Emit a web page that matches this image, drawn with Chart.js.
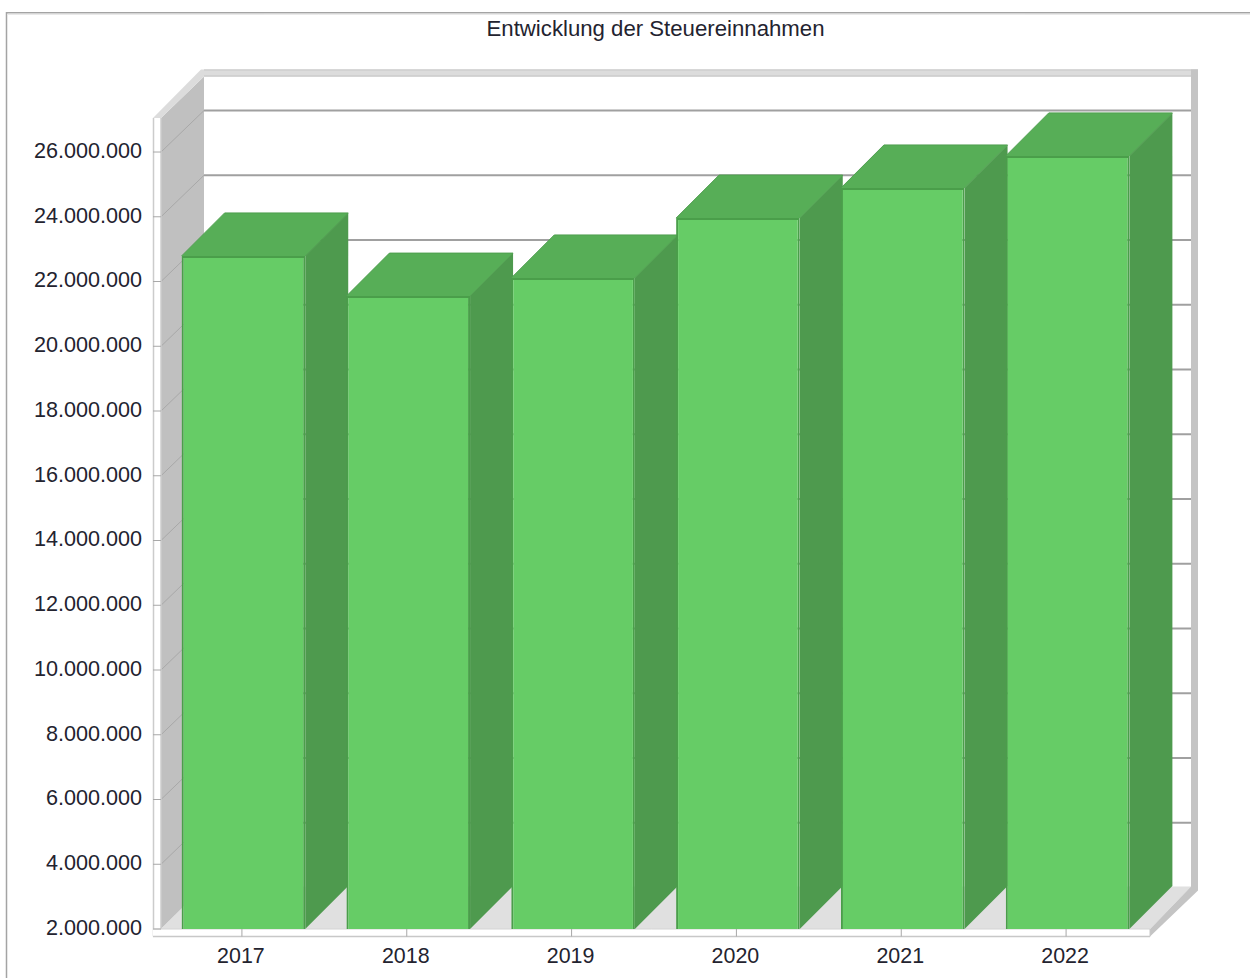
<!DOCTYPE html>
<html lang="de">
<head>
<meta charset="utf-8">
<title>Entwicklung der Steuereinnahmen</title>
<script src="https://cdn.jsdelivr.net/npm/chart.js@4"></script>
<style>
html,body{margin:0;padding:0;background:#fff;overflow:hidden}
canvas{display:block}
</style>
</head>
<body>
<canvas id="c" width="1250" height="978"></canvas>
<script>
const chartTitle = 'Entwicklung der Steuereinnahmen';
const years = ['2017','2018','2019','2020','2021','2022'];
const revenue = [22790000,21550000,22110000,23960000,24890000,25880000];
const tickValues = [2000000,4000000,6000000,8000000,10000000,12000000,14000000,16000000,18000000,20000000,22000000,24000000,26000000];
const axisMin = 2000000;
const axisMax = 27020000;

const FONT = '"Liberation Sans", Arial, sans-serif';
const TEXT = '#23232f';
const BAR_D = 43, WALL_DX = 43, WALL_DY = 41.5, STRIP = 8, FRONT_H = 7.5, RIM = 7, TICK_SHIFT = -1.5;

function poly(ctx, pts, fill, stroke, lw){
  ctx.beginPath();
  pts.forEach((p,i)=> i?ctx.lineTo(p[0],p[1]):ctx.moveTo(p[0],p[1]));
  ctx.closePath();
  if(fill){ctx.fillStyle=fill;ctx.fill();}
  if(stroke){ctx.strokeStyle=stroke;ctx.lineWidth=lw||1;ctx.stroke();}
}
function line(ctx,x1,y1,x2,y2,c,lw){
  ctx.beginPath();ctx.moveTo(x1,y1);ctx.lineTo(x2,y2);ctx.strokeStyle=c;ctx.lineWidth=lw||1;ctx.stroke();
}

const frame3d = {
  id:'frame3d',
  beforeDraw(chart){
    const ctx=chart.ctx;
    ctx.save();
    ctx.fillStyle='#ffffff';
    ctx.fillRect(0,0,chart.width,chart.height);
    line(ctx,6.5,12,6.5,chart.height,'#a4a4a4',1.5);
    line(ctx,6,12.8,chart.width,12.8,'#a4a4a4',1.5);
    line(ctx,8,14.3,chart.width,14.3,'#e4e4e4',1);
    ctx.restore();
  },
  beforeDatasetsDraw(chart){
    const ctx=chart.ctx, {left:L,right:R,top:T0,bottom:B}=chart.chartArea;
    const T=T0-1;
    const y=chart.scales.y, x=chart.scales.x;
    const bL=L+WALL_DX, bR=R+WALL_DX-2, bT=T-WALL_DY, bB=B-WALL_DY-1;
    ctx.save();
    // back wall
    poly(ctx,[[bL,bT],[bR,bT],[bR,bB],[bL,bB]],'#ffffff');
    // left wall
    poly(ctx,[[L,T],[bL,bT],[bL,bB],[L,B]],'#c0c0c0');
    // floor
    poly(ctx,[[L,B],[bL,bB],[bR,bB],[R,B]],'#e0e0e0');
    // top rim
    poly(ctx,[[L-STRIP,T],[bL-3,bT-RIM],[bR+RIM,bT-RIM],[bR,bT],[bL,bT],[L,T]],'#dcdcdc');
    line(ctx,bL,bT-RIM+0.5,bR+RIM,bT-RIM+0.5,'#cfcfcf',1.5);
    line(ctx,bL,bT-0.5,bR,bT-0.5,'#cdcdcd',1.5);
    // right wall strip with the diagonal going down to the front corner
    poly(ctx,[[bR,bT-RIM],[bR+RIM,bT-RIM],[bR+RIM,bB+4],[R,B+FRONT_H],[R,B],[bR,bB]],'#c4c4c4');
    poly(ctx,[[R,B],[bR,bB],[bR-1,bB+1],[R-1,B]],'#e0e0e0');
    // gridlines: diagonal on the left wall, horizontal on the back wall
    tickValues.forEach(v=>{
      const py=y.getPixelForValue(v);
      if(v!==axisMin){
        line(ctx,L,py,bL,py-WALL_DY,'#a8a8a8',1);
        line(ctx,bL,py-WALL_DY,bR,py-WALL_DY,'#a0a0a0',2);
      }
    });
    // left front strip
    poly(ctx,[[L-STRIP,T],[L,T],[L,B+FRONT_H],[L-STRIP,B+FRONT_H]],'#ffffff');
    line(ctx,L-STRIP+0.5,T,L-STRIP+0.5,B+FRONT_H,'#cccccc',1.5);
    line(ctx,L,T,L,B+FRONT_H,'#cccccc',1.5);
    // bottom front strip
    poly(ctx,[[L-STRIP,B],[R,B],[R,B+FRONT_H],[L-STRIP,B+FRONT_H]],'#ffffff');
    line(ctx,L-STRIP,B+FRONT_H,R,B+FRONT_H,'#c8c8c8',1.5);
    line(ctx,L-STRIP,B,R,B,'#d4d4d4',1);
    line(ctx,R,B,R,B+FRONT_H,'#c8c8c8',1);
    // tick marks repeated over the strip
    tickValues.forEach(v=>{
      const py=y.getPixelForValue(v);
      line(ctx,L-STRIP,py,L,py,'#a8a8a8',1);
    });
    years.forEach((_,i)=>{
      const px=x.getPixelForValue(i)+TICK_SHIFT;
      line(ctx,px,B,px,B+FRONT_H,'#a8a8a8',1);
    });
    // extruded sides and tops of the bars
    chart.getDatasetMeta(0).data.forEach(bar=>{
      const hw=bar.width/2, xl=bar.x-hw, xr=bar.x+hw, yt=bar.y, yb=B;
      poly(ctx,[[xr,yt],[xr+BAR_D,yt-BAR_D],[xr+BAR_D,yb-BAR_D],[xr,yb]],'#4e9a4e');
      poly(ctx,[[xl,yt],[xl+BAR_D,yt-BAR_D],[xr+BAR_D,yt-BAR_D],[xr,yt]],'#57ae57');
      line(ctx,xl,yt,xl+BAR_D,yt-BAR_D,'#4f9f4f',1);
      line(ctx,xl+BAR_D,yt-BAR_D,xr+BAR_D,yt-BAR_D,'#4f9f4f',1);
      line(ctx,xr,yt,xr+BAR_D,yt-BAR_D,'#4f9f4f',1);
    });
    ctx.restore();
  }
};

const canvas=document.getElementById('c');
canvas.getContext('2d',{alpha:false});
new Chart(canvas,{
  type:'bar',
  data:{labels:years,datasets:[{
    data:revenue,
    backgroundColor:'#66cc66',
    borderColor:'#4a9e4a',
    borderWidth:2,
    barPercentage:0.75,
    categoryPercentage:1
  }]},
  options:{
    responsive:false,
    animation:false,
    layout:{padding:{left:0,right:100,top:0,bottom:0}},
    plugins:{
      legend:{display:false},
      tooltip:{enabled:false},
      title:{
        display:true,text:chartTitle,fullSize:false,
        color:TEXT,
        font:{family:FONT,size:22.2,weight:'normal',lineHeight:1.2},
        padding:{top:17,bottom:75.36}
      }
    },
    scales:{
      x:{
        grid:{display:false},border:{display:false},
        ticks:{color:TEXT,font:{family:FONT,size:21.4},padding:7,maxRotation:0,labelOffset:-2.5},
        afterFit(s){s.height=49;}
      },
      y:{
        min:axisMin,max:axisMax,
        grid:{display:false},border:{display:false},
        afterBuildTicks(s){s.ticks=tickValues.map(v=>({value:v}));},
        afterFit(s){s.width=161;},
        ticks:{
          color:TEXT,padding:11,autoSkip:false,
          font:{family:FONT,size:21.6},
          callback:v=>Number(v).toLocaleString('de-DE')
        }
      }
    }
  },
  plugins:[frame3d]
});
</script>
</body>
</html>
